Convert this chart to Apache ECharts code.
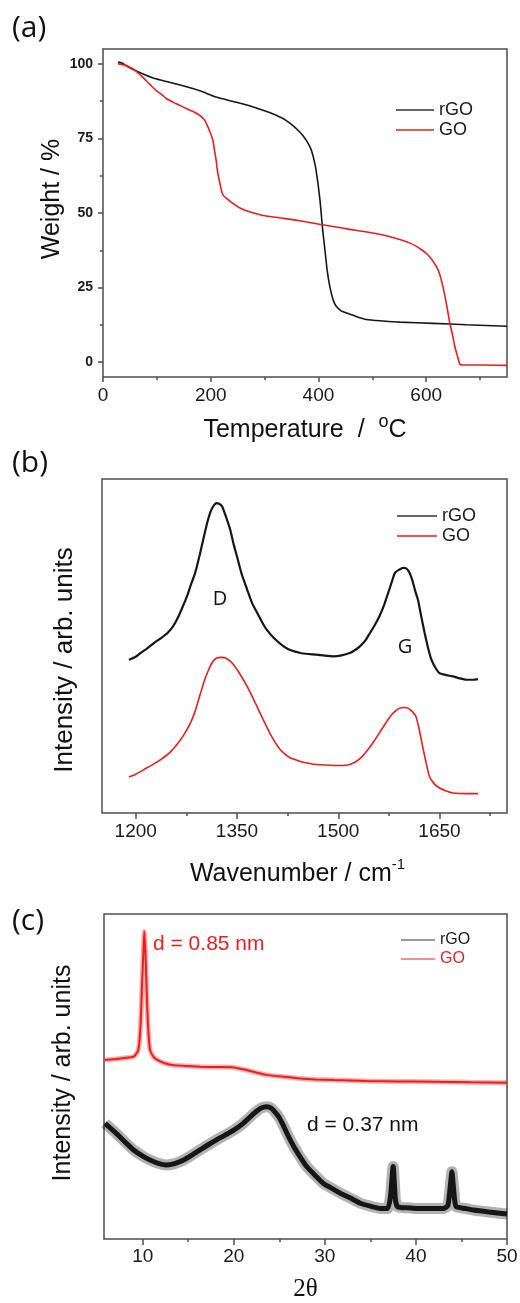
<!DOCTYPE html>
<html><head><meta charset="utf-8">
<script src="https://cdn.jsdelivr.net/npm/echarts@6/dist/echarts.min.js"></script>
<style>html,body{margin:0;padding:0;background:#fff}#c{width:520px;height:1303px}</style>
</head><body><div id="c"></div>
<script>
// ---------- (a) TGA ----------
const tgaRgoT = [28,35,43,60,80,96,120,150,180,210,240,272,300,315,335,352,363,371,380,387,394,399,403,405,408,412,416,421,427,433,442,452,470,489,520,551,613,675,750];
const tgaRgoW = [100.6,100.3,99.4,97.8,96.2,95.1,94.0,92.6,91.0,88.9,87.5,86.0,84.3,83.3,81.6,79.4,77.6,76.0,73.6,71.0,66.0,60.0,54.0,50.0,44.0,37.6,31.0,25.4,21.0,18.7,17.2,16.5,15.3,14.3,13.8,13.4,13.0,12.5,12.0];
const tgaGoT = [28,40,56,65,74,86,99,110,118,135,149,165,180,187,192,198,204,207,210,213,217,220,223,230,241,255,272,290,303,335,365,402,430,458,490,520,551,570,582,592,600,610,619,625,631,637,644,649,653,658,663,670,706,750];
const tgaGoW = [100,99.6,98.3,97.0,95.5,93.3,91.0,89.6,88.3,86.7,85.5,84.2,82.7,81.5,80.0,77.5,74.4,71.0,67.7,63.5,60.0,57.5,56.0,54.8,53.2,51.6,50.4,49.5,49.0,48.2,47.4,46.2,45.4,44.5,43.6,42.6,41.1,39.9,38.8,37.6,36.5,34.5,32.0,29.5,25.4,20.0,13.0,9.0,5.3,2.0,-0.8,-1.0,-1.0,-1.1];
const tgaTempTicks = [0,200,400,600];
const tgaTempMinor = [100,300,500,700];
const tgaWeightTicks = [0,25,50,75,100];
const tgaWeightMinor = [12.5,37.5,62.5,87.5];

// ---------- (b) Raman ----------
const ramRgoX = [1190,1200,1207,1217,1227,1237,1247,1255,1261,1268,1276,1282,1288,1295,1301,1306,1311,1316,1320,1324,1328,1334,1340,1345,1350,1357,1365,1372,1380,1387,1394,1405,1419,1430,1444,1456,1468,1480,1493,1505,1517,1525,1532,1540,1547,1554,1561,1568,1574,1579,1584,1590,1596,1601,1606,1610,1614,1618,1623,1628,1633,1638,1644,1650,1660,1670,1680,1690,1700,1707];
const ramRgoY = [45.9,46.8,47.9,49.3,50.9,52.3,53.9,55.8,57.9,61.0,64.9,68.5,71.9,77.5,82.8,87.0,90.3,92.2,92.8,92.5,91.8,88.5,84.8,80.5,76.8,71.5,66.9,63.0,59.9,57.2,54.9,52.3,49.9,48.7,47.9,47.6,47.4,47.1,46.9,47.2,47.9,48.8,49.9,51.6,53.9,56.2,58.9,62.3,65.9,69.0,71.9,72.8,73.4,73.2,71.8,69.5,66.5,63.9,58.8,53.9,49.5,45.9,43.5,41.9,41.3,40.9,40.3,39.9,39.9,40.1];
const ramGoX = [1190,1200,1212,1225,1237,1250,1261,1270,1281,1288,1296,1302,1308,1314,1320,1327,1333,1339,1345,1355,1365,1377,1389,1401,1414,1428,1443,1456,1468,1488,1507,1518,1527,1535,1542,1552,1561,1570,1579,1585,1591,1597,1603,1609,1615,1620,1625,1630,1635,1642,1650,1660,1670,1690,1707];
const ramGoY = [10.8,11.6,13.0,14.5,16.0,18.0,20.5,23.0,26.9,30.5,35.9,39.8,42.9,45.3,46.4,46.6,46.4,45.6,44.4,41.4,37.9,33.0,27.9,23.0,19.0,16.6,15.5,14.9,14.5,14.3,14.2,14.6,15.5,16.8,18.5,21.2,24.0,26.8,29.4,30.6,31.4,31.6,31.4,30.5,28.9,25.0,19.9,15.2,11.0,8.8,7.5,6.6,6.0,5.8,5.8];
const ramTicks = [1200,1350,1500,1650];
const ramMinor = [1275,1425,1575,1725];

// ---------- (c) XRD ----------
const xrdGoX = [5.86,7.0,8.0,9.0,9.5,9.75,9.95,10.1,10.18,10.3,10.45,10.6,10.8,11.2,11.6,12.5,13.4,15,16.3,18,20,21.4,22.5,23.6,25.5,27.3,29,31,34.6,38,42,46,50];
const xrdGoY = [55.1,55.4,55.7,56.1,58.0,65,80,90,94.6,88,75,65,58.2,56.0,55.1,54.0,53.5,53.2,53.0,52.9,52.8,52.0,51.2,50.5,49.9,49.4,49.1,48.9,48.6,48.5,48.4,48.2,48.1];
const xrdRgoX = [5.86,7.1,8,9,10,10.8,11.7,12.6,13.5,14.5,15.4,16.3,17.2,18.1,19,20,21,21.8,22.5,23,23.6,24.1,24.6,25,25.5,26,26.6,27.3,28,29,29.85,31,31.7,32.8,33.9,35,36.1,36.9,37.2,37.5,37.75,38,39,40.1,41.5,43,43.5,43.8,43.95,44.15,44.4,45.4,46.3,48,50];
const xrdRgoY = [35.6,32.5,30.0,27.4,25.5,24.3,23.3,22.8,23.2,24.3,25.8,27.4,29.0,30.5,31.9,33.5,35.5,37.6,39.3,40.3,40.7,40.3,38.8,37.3,34.6,31.6,28.4,25.2,22.3,19.4,17.1,15.2,14.1,12.6,11.0,10.1,9.4,9.4,13,22.3,12,9.9,9.6,9.4,9.4,9.4,10.2,17,20.7,15,10,9.4,8.9,8.3,7.7];
const xrdTicks = [10,20,30,40,50];
const xrdMinor = [15,25,35,45];

const zip = (xs, ys) => xs.map((x, i) => [x, ys[i]]);
const SANS = 'Liberation Sans';
const AX = '#4d4d4d';
const BLACK = '#161616';
const RED = '#ee1c1c';
const plain = v => String(v);

function mkX(grid, min, max, vals, len, opts) {
  return Object.assign({
    type: 'value', gridIndex: grid, min: min, max: max, position: 'bottom',
    axisLine: { show: false, onZero: false },
    splitLine: { show: false },
    axisTick: { show: true, customValues: vals, length: len, lineStyle: { color: AX, width: 1.5 } },
    axisLabel: { show: false },
    nameMoveOverlap: false
  }, opts || {});
}
function mkY(grid, min, max, opts) {
  return Object.assign({
    type: 'value', gridIndex: grid, min: min, max: max, position: 'left',
    axisLine: { show: false, onZero: false }, splitLine: { show: false },
    axisLabel: { show: false }, axisTick: { show: false }, nameMoveOverlap: false
  }, opts || {});
}

const chart = echarts.init(document.getElementById('c'), null, { renderer: 'canvas' });
const gridBase = { right: 13, show: true, borderColor: AX, borderWidth: 1.5, backgroundColor: 'transparent', outerBoundsMode: 'none', containLabel: false };
const option = {
  animation: false,
  backgroundColor: '#fff',
  grid: [
    Object.assign({ left: 103, top: 49, height: 328 }, gridBase),
    Object.assign({ left: 102, top: 479, height: 334 }, gridBase),
    Object.assign({ left: 104, top: 914, height: 325 }, gridBase)
  ],
  xAxis: [
    mkX(0, 0, 750, tgaTempTicks, 5, {
      axisLabel: { show: true, customValues: tgaTempTicks, formatter: plain, margin: 9, fontSize: 19, fontFamily: SANS, color: '#1a1a1a' },
      name: '{t|Temperature  /  }{s|o}{t|C}', nameLocation: 'middle', nameGap: 36,
      nameTextStyle: { rich: {
        t: { fontSize: 25, fontFamily: SANS, color: '#111', lineHeight: 34 },
        s: { fontSize: 18, fontFamily: SANS, color: '#111', lineHeight: 14, verticalAlign: 'top' } } }
    }),
    mkX(0, 0, 750, tgaTempMinor, 3),
    mkX(1, 1150, 1750, ramTicks, 6, {
      axisLabel: { show: true, customValues: ramTicks, formatter: plain, margin: 9, fontSize: 19, fontFamily: SANS, color: '#1a1a1a' },
      name: '{t|Wavenumber / cm}{s|-1}', nameLocation: 'middle', nameGap: 44,
      nameTextStyle: { padding: [0, 14, 0, 0], rich: {
        t: { fontSize: 25, fontFamily: SANS, color: '#111', lineHeight: 34 },
        s: { fontSize: 15, fontFamily: SANS, color: '#111', lineHeight: 14, verticalAlign: 'top' } } }
    }),
    mkX(1, 1150, 1750, ramMinor, 3),
    mkX(2, 5.75, 50, xrdTicks, 6, {
      axisLabel: { show: true, customValues: xrdTicks, formatter: plain, margin: 8, fontSize: 19, fontFamily: SANS, color: '#1a1a1a' },
      name: '2θ', nameLocation: 'middle', nameGap: 38,
      nameTextStyle: { fontSize: 25, fontFamily: 'Liberation Serif', color: '#111' }
    }),
    mkX(2, 5.75, 50, xrdMinor, 3)
  ],
  yAxis: [
    mkY(0, -5, 105, {
      axisTick: { show: true, customValues: tgaWeightTicks, length: 5, lineStyle: { color: AX, width: 1.5 } },
      axisLabel: { show: true, customValues: tgaWeightTicks, formatter: plain, margin: 10, fontSize: 14, fontWeight: 'bold', fontFamily: SANS, color: '#1a1a1a' },
      name: 'Weight / %', nameLocation: 'middle', nameRotate: 90, nameGap: 38,
      nameTextStyle: { fontSize: 25, fontFamily: SANS, color: '#111', padding: [0, 0, 0, 28] }
    }),
    mkY(0, -5, 105, {
      axisTick: { show: true, customValues: tgaWeightMinor, length: 3, lineStyle: { color: AX, width: 1.5 } }
    }),
    mkY(1, 0, 100, {
      name: 'Intensity / arb. units', nameLocation: 'middle', nameRotate: 90, nameGap: 24,
      nameTextStyle: { fontSize: 26, fontFamily: SANS, color: '#111', padding: [0, 28, 0, 0] }
    }),
    mkY(2, 0, 100, {
      name: 'Intensity / arb. units', nameLocation: 'middle', nameRotate: 90, nameGap: 28,
      nameTextStyle: { fontSize: 25, fontFamily: SANS, color: '#111', padding: [0, 0, 0, 7] }
    })
  ],
  legend: [
    { left: 396, top: 101, orient: 'vertical', padding: 0, itemGap: 2, itemWidth: 38, itemHeight: 1.5, icon: 'rect',
      data: ['rGO', 'GO'], selectedMode: false,
      textStyle: { fontSize: 18, fontFamily: SANS, color: '#1a1a1a' } },
    { left: 397, top: 507, orient: 'vertical', padding: 0, itemGap: 2, itemWidth: 40, itemHeight: 1.5, icon: 'rect',
      data: ['rGO', 'GO'], selectedMode: false,
      textStyle: { fontSize: 18, fontFamily: SANS, color: '#1a1a1a' } },
    { left: 401, top: 932, orient: 'vertical', padding: 0, itemGap: 3, itemWidth: 34, itemHeight: 1.2, icon: 'rect',
      data: [{ name: 'rGO' }, { name: 'GO', textStyle: { color: RED } }], selectedMode: false,
      textStyle: { fontSize: 16, fontFamily: SANS, color: '#1a1a1a' } }
  ],
  series: [
    { name: 'rGO', type: 'line', xAxisIndex: 0, yAxisIndex: 0, data: zip(tgaRgoT, tgaRgoW), symbol: 'none', smooth: 0.2, lineStyle: { color: BLACK, width: 1.6 }, itemStyle: { color: '#333' }, silent: true },
    { name: 'GO', type: 'line', xAxisIndex: 0, yAxisIndex: 0, data: zip(tgaGoT, tgaGoW), symbol: 'none', smooth: 0.2, lineStyle: { color: RED, width: 1.6 }, itemStyle: { color: RED }, silent: true },
    { name: 'rGO', type: 'line', xAxisIndex: 2, yAxisIndex: 2, data: zip(ramRgoX, ramRgoY), symbol: 'none', smooth: 0.2, lineStyle: { color: BLACK, width: 2.2 }, itemStyle: { color: '#333' }, silent: true },
    { name: 'GO', type: 'line', xAxisIndex: 2, yAxisIndex: 2, data: zip(ramGoX, ramGoY), symbol: 'none', smooth: 0.2, lineStyle: { color: RED, width: 1.6 }, itemStyle: { color: RED }, silent: true },
    { name: 'GO noise', type: 'line', xAxisIndex: 4, yAxisIndex: 3, data: zip(xrdGoX, xrdGoY), symbol: 'none', smooth: 0.2, lineStyle: { color: 'rgba(238,28,28,0.35)', width: 5 }, silent: true },
    { name: 'GO', type: 'line', xAxisIndex: 4, yAxisIndex: 3, data: zip(xrdGoX, xrdGoY), symbol: 'none', smooth: 0.2, lineStyle: { color: RED, width: 2 }, itemStyle: { color: RED }, silent: true },
    { name: 'rGO noise', type: 'line', xAxisIndex: 4, yAxisIndex: 3, data: zip(xrdRgoX, xrdRgoY), symbol: 'none', smooth: 0.2, lineStyle: { color: 'rgba(0,0,0,0.3)', width: 11 }, silent: true },
    { name: 'rGO', type: 'line', xAxisIndex: 4, yAxisIndex: 3, data: zip(xrdRgoX, xrdRgoY), symbol: 'none', smooth: 0.2, lineStyle: { color: BLACK, width: 5 }, itemStyle: { color: '#333' }, silent: true }
  ],
  graphic: [
    { type: 'text', left: 12, top: 13, style: { text: '(a)', fontSize: 30, fontFamily: 'Open Sans', fill: '#111' } },
    { type: 'text', left: 12, top: 448, style: { text: '(b)', fontSize: 30, fontFamily: 'Open Sans', fill: '#111' } },
    { type: 'text', left: 12, top: 906, style: { text: '(c)', fontSize: 30, fontFamily: 'Open Sans', fill: '#111' } },
    { type: 'text', x: 220, y: 599, style: { text: 'D', fontSize: 20, fontFamily: 'Open Sans', fill: '#111', align: 'center', verticalAlign: 'middle' } },
    { type: 'text', x: 405, y: 647, style: { text: 'G', fontSize: 20, fontFamily: 'Open Sans', fill: '#111', align: 'center', verticalAlign: 'middle' } },
    { type: 'text', x: 153, y: 944, style: { text: 'd = 0.85 nm', fontSize: 21, fontFamily: SANS, fill: RED, align: 'left', verticalAlign: 'middle' } },
    { type: 'text', x: 307, y: 1125, style: { text: 'd = 0.37 nm', fontSize: 21, fontFamily: SANS, fill: '#111', align: 'left', verticalAlign: 'middle' } }
  ]
};
chart.setOption(option);
</script>
</body></html>
